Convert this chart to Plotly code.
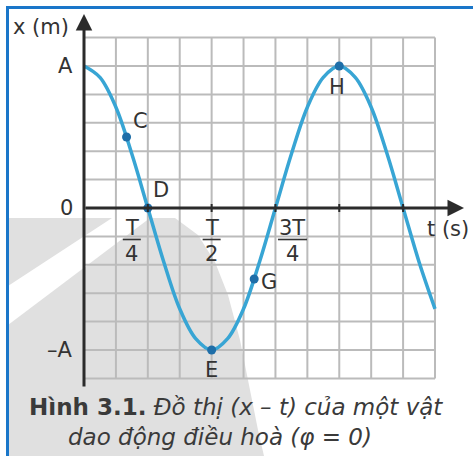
import plotly.graph_objects as go

# Displacement of a harmonic oscillator, x = A cos(wt), phi = 0.
# Time in units of the period T, displacement in units of the amplitude A.
t_curve = [i / 16 for i in range(23)]
x_curve = [1.0, 0.92, 0.71, 0.38, 0.0, -0.38, -0.71, -0.92, -1.0, -0.92, -0.71,
           -0.38, 0.0, 0.38, 0.71, 0.92, 1.0, 0.92, 0.71, 0.38, 0.0, -0.38, -0.71]

# Marked points on the curve
pt_names = ["C", "D", "E", "G", "H"]
pt_t = [1 / 6, 1 / 4, 1 / 2, 2 / 3, 1.0]
pt_x = [0.5, 0.0, -1.0, -0.5, 1.0]

# Fraction tick labels on the t axis
tick_t = [0.25, 0.5, 0.75]
tick_num = ["T", "T", "3T"]
tick_den = ["4", "2", "4"]

# y-axis labels
ylab_vals = [1.0, 0.0, -1.0]
ylab_text = ["A", "0", "\u2013A"]

W, H = 473, 456
X0, PX_T = 84.0, 351.0 / 1.375   # pixel of t=0, pixels per period
Y0, PX_A = 208.0, 142.0          # pixel of x=0, pixels per amplitude


def tx(px):
    return (px - X0) / PX_T


def ya(py):
    return (Y0 - py) / PX_A


CURVE = "#38a5d4"
DOT = "#1f6ea8"
GRID = "#bbbbbb"
AXIS = "#2b2b2b"
TEXT = "#333333"
FONT = "DejaVu Sans, Liberation Sans, sans-serif"

fig = go.Figure()


def poly_px(points):
    xs = [tx(a) for a, _ in points] + [tx(points[0][0])]
    ys = [ya(b) for _, b in points] + [ya(points[0][1])]
    return xs, ys


# soft grey sweep in the lower-left background
grey_pts = [(8, 218), (175, 218), (198, 235), (215, 262), (228, 295), (240, 340),
            (250, 390), (258, 430), (264, 456), (8, 456)]
gx, gy = poly_px(grey_pts)
fig.add_trace(go.Scatter(x=gx, y=gy, mode="lines", fill="toself",
                         fillcolor="#e0e0e0", line=dict(width=0), hoverinfo="skip"))
band_pts = [(8, 286), (112, 218), (150, 218), (8, 325)]
bx, by = poly_px(band_pts)
fig.add_trace(go.Scatter(x=bx, y=by, mode="lines", fill="toself",
                         fillcolor="#ffffff", line=dict(width=0), hoverinfo="skip"))

# grid: 11 columns of T/8, 12 rows of A/5
n_cols, n_rows = 11, 12
grid_x, grid_y = [], []
for k in range(n_cols + 1):
    grid_x += [k / 8, k / 8, None]
    grid_y += [-1.2, 1.2, None]
for j in range(n_rows + 1):
    yv = -1.2 + j * 0.2
    grid_x += [0, n_cols / 8, None]
    grid_y += [yv, yv, None]
fig.add_trace(go.Scatter(x=grid_x, y=grid_y, mode="lines",
                         line=dict(color=GRID, width=2), hoverinfo="skip"))

shapes = []

# small tick marks on the t axis every T/4
for k in range(1, 6):
    shapes.append(dict(type="line", xref="x", yref="y",
                       x0=k / 4, x1=k / 4, y0=ya(212), y1=ya(204),
                       line=dict(color=AXIS, width=2)))

# blue frame (top and left)
shapes.append(dict(type="line", xref="paper", yref="paper",
                   x0=7 / W, x1=1, y0=1 - 7.5 / H, y1=1 - 7.5 / H,
                   line=dict(color="#1a76c9", width=3)))
shapes.append(dict(type="line", xref="paper", yref="paper",
                   x0=7.5 / W, x1=7.5 / W, y0=0, y1=1 - 6 / H,
                   line=dict(color="#1a76c9", width=3)))

annotations = []

# axes with arrowheads
annotations.append(dict(x=0, y=ya(14), ax=0, ay=ya(388), xref="x", yref="y",
                        axref="x", ayref="y", text="", showarrow=True,
                        arrowhead=2, arrowsize=1.1, arrowwidth=3, arrowcolor=AXIS))
annotations.append(dict(x=tx(464), y=0, ax=0, ay=0, xref="x", yref="y",
                        axref="x", ayref="y", text="", showarrow=True,
                        arrowhead=2, arrowsize=1.1, arrowwidth=3, arrowcolor=AXIS))

lab_font = dict(family=FONT, size=21, color=TEXT)

# axis titles
annotations.append(dict(x=tx(11), y=ya(27), xref="x", yref="y", text="x (m)",
                        showarrow=False, xanchor="left", yanchor="middle", font=lab_font))
annotations.append(dict(x=tx(425), y=ya(229), xref="x", yref="y", text="t (s)",
                        showarrow=False, xanchor="left", yanchor="middle", font=lab_font))

# y labels
for v, s in zip(ylab_vals, ylab_text):
    annotations.append(dict(x=0, y=v, xref="x", yref="y", text=s, showarrow=False,
                            xanchor="right", yanchor="middle", xshift=-9, font=lab_font))

# fraction tick labels
tick_dx = [-16, 0, 17]
bar_half = [9, 9, 14.5]
for tv, nu, de, dx, hw in zip(tick_t, tick_num, tick_den, tick_dx, bar_half):
    annotations.append(dict(x=tv, y=ya(228), xref="x", yref="y", text=nu,
                            showarrow=False, xshift=dx, yanchor="middle", font=lab_font))
    annotations.append(dict(x=tv, y=ya(254), xref="x", yref="y", text=de,
                            showarrow=False, xshift=dx, yanchor="middle", font=lab_font))
    cx = X0 + tv * PX_T + dx
    shapes.append(dict(type="line", xref="x", yref="y",
                       x0=tx(cx - hw), x1=tx(cx + hw), y0=ya(239.5), y1=ya(239.5),
                       line=dict(color=TEXT, width=1.6)))

# point labels
pt_shift = [(14, 16), (13, 18), (0, -20), (15, -3), (-2, -21)]
for name, tv, xv, (sx, sy) in zip(pt_names, pt_t, pt_x, pt_shift):
    annotations.append(dict(x=tv, y=xv, xref="x", yref="y", text=name,
                            showarrow=False, xshift=sx, yshift=sy, font=lab_font))

# caption, two lines
cap_font = dict(family=FONT, size=23, color="#3a3a3a")
annotations.append(dict(
    x=235.5 / W, y=1 - 407 / H, xref="paper", yref="paper", showarrow=False,
    text="<b>Hình 3.1.</b> <i>Đồ thị (x \u2013 t) của một vật</i>",
    xanchor="center", yanchor="middle", font=cap_font))
annotations.append(dict(
    x=220 / W, y=1 - 437 / H, xref="paper", yref="paper", showarrow=False,
    text="<i>dao động điều hoà (φ = 0)</i>",
    xanchor="center", yanchor="middle", font=cap_font))

fig.add_trace(go.Scatter(x=t_curve, y=x_curve, mode="lines",
                         line=dict(color=CURVE, width=3.5, shape="spline"),
                         hoverinfo="skip"))
fig.add_trace(go.Scatter(x=pt_t, y=pt_x, mode="markers",
                         marker=dict(color=DOT, size=9), hoverinfo="skip"))

fig.update_layout(
    width=W, height=H, margin=dict(l=0, r=0, t=0, b=0),
    paper_bgcolor="white", plot_bgcolor="white", showlegend=False,
    xaxis=dict(range=[tx(0), tx(W)], visible=False, fixedrange=True),
    yaxis=dict(range=[ya(H), ya(0)], visible=False, fixedrange=True),
    shapes=shapes, annotations=annotations,
)

fig.write_html("out.html")
